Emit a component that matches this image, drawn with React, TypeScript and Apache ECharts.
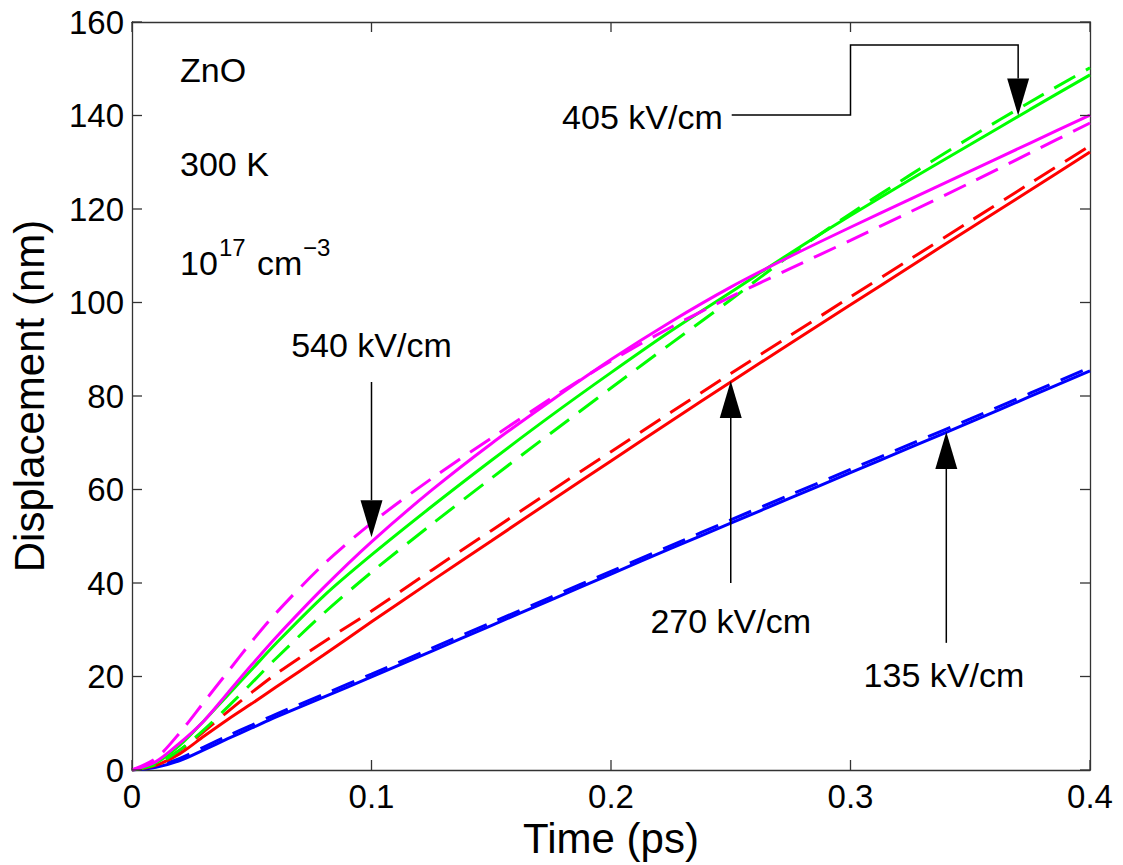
import React, { useEffect, useRef } from "react";
import * as echarts from "echarts";

// ---- data (time in ps, displacement in nm) ----
const times = [0, 0.01, 0.02, 0.03, 0.04, 0.05, 0.06, 0.08, 0.1, 0.125, 0.15, 0.175, 0.2, 0.225, 0.25, 0.275, 0.3, 0.325, 0.35, 0.375, 0.4];

const blueSolid = [0, 0.6, 2.0, 4.3, 6.7, 9.0, 11.3, 15.6, 19.9, 25.4, 30.9, 36.4, 41.9, 47.4, 52.8, 58.2, 63.6, 69.0, 74.4, 79.9, 85.4];
const blueDashed = [0, 0.8, 2.5, 4.9, 7.3, 9.6, 11.9, 16.2, 20.5, 26.0, 31.5, 37.0, 42.5, 48.0, 53.5, 58.9, 64.3, 69.7, 75.1, 80.6, 86.1];
const redSolid = [0, 1.0, 3.5, 7.2, 10.8, 14.2, 17.7, 24.6, 31.7, 40.4, 49.0, 57.6, 66.1, 74.6, 83.0, 91.3, 99.5, 107.7, 115.9, 124.0, 132.2];
const redDashed = [0, 1.3, 4.2, 8.2, 12.5, 16.6, 20.5, 27.4, 34.0, 42.7, 51.2, 59.7, 68.1, 76.5, 84.8, 93.0, 101.2, 109.3, 117.4, 125.5, 133.5];
const greenSolid = [0, 1.5, 5.3, 10.5, 16.0, 21.5, 27.0, 37.2, 46.0, 56.3, 66.2, 75.8, 85.0, 93.9, 102.2, 110.6, 118.6, 126.3, 133.8, 141.3, 148.7];
const greenDashed = [0, 1.2, 4.3, 8.6, 13.5, 18.6, 23.8, 33.5, 42.3, 52.5, 62.4, 72.1, 81.7, 91.2, 100.6, 110.2, 119.0, 127.3, 135.3, 142.9, 150.2];
const magentaSolid = [0, 1.8, 5.8, 10.5, 16.5, 22.5, 28.3, 39.0, 48.8, 59.8, 69.8, 79.0, 87.8, 95.9, 103.3, 109.9, 116.1, 122.1, 128.1, 134.1, 140.1];
const magentaDashed = [0, 2.5, 8.0, 14.5, 21.0, 27.5, 33.5, 44.0, 52.8, 62.3, 71.0, 79.5, 87.5, 94.7, 101.2, 107.3, 113.3, 119.4, 125.6, 132.0, 138.4];

const xTicks = [0, 0.1, 0.2, 0.3, 0.4];
const yTicks = [0, 20, 40, 60, 80, 100, 120, 140, 160];

// annotations (data coordinates)
const arrowNotes = [
  { label: "540 kV/cm", text: [0.1, 90.9], from: [0.1, 83], tip: [0.1, 49.8] },
  { label: "270 kV/cm", text: [0.25, 31.9], from: [0.25, 40], tip: [0.25, 83.2] },
  { label: "135 kV/cm", text: [0.339, 20.3], from: [0.34, 27.2], tip: [0.34, 72.3] },
];
const note405Label = "405 kV/cm";
const note405Path = [[0.2504, 140.1], [0.3, 140.1], [0.3, 155.1], [0.37, 155.1], [0.37, 140.0]];

const FONT = "'Liberation Sans', Arial, Helvetica, sans-serif";
const AXIS_COLOR = "#333";

function pairs(ys: number[]) {
  return times.map((t, i) => [t, ys[i]]);
}

export default function App() {
  const ref = useRef<HTMLDivElement>(null);
  useEffect(() => {
    if (!ref.current) return;
    const chart = echarts.init(ref.current, null, { renderer: "svg" });
    const dashed = [24, 12];
    const mk = (name: string, ys: number[], color: string, dash: boolean) => ({
      name,
      type: "line",
      data: pairs(ys),
      smooth: 0.3,
      showSymbol: false,
      symbol: "none",
      xAxisIndex: 0,
      yAxisIndex: 0,
      lineStyle: { color, width: 3, type: dash ? dashed : "solid", cap: "butt" },
      emphasis: { disabled: true },
    });
    const baseAxis = {
      type: "value",
      splitLine: { show: false },
      axisLine: { show: true, onZero: false, lineStyle: { color: AXIS_COLOR, width: 1.3 } },
      axisTick: { show: false },
    };
    chart.setOption({
      animation: false,
      backgroundColor: "#fff",
      grid: { left: 130, top: 22, right: 33, bottom: 95, containLabel: false },
      xAxis: [
        {
          ...baseAxis,
          position: "bottom",
          min: xTicks[0],
          max: xTicks[xTicks.length - 1],
          interval: 0.1,
          name: "Time (ps)",
          nameLocation: "middle",
          nameGap: 38,
          nameTextStyle: { fontSize: 42, fontFamily: FONT, color: "#000" },
          axisLabel: {
            fontSize: 33,
            fontFamily: FONT,
            color: "#000",
            margin: 10,
            formatter: (v: number) => String(+v.toFixed(1)),
          },
        },
        {
          ...baseAxis,
          position: "top",
          min: xTicks[0],
          max: xTicks[xTicks.length - 1],
          interval: 0.1,
          axisLabel: { show: false },
        },
      ],
      yAxis: [
        {
          ...baseAxis,
          position: "left",
          min: yTicks[0],
          max: yTicks[yTicks.length - 1],
          interval: 20,
          name: "Displacement (nm)",
          nameLocation: "middle",
          nameGap: 82,
          nameTextStyle: { fontSize: 42, fontFamily: FONT, color: "#000" },
          axisLabel: { fontSize: 33, fontFamily: FONT, color: "#000", margin: 8 },
        },
        {
          ...baseAxis,
          position: "right",
          min: yTicks[0],
          max: yTicks[yTicks.length - 1],
          interval: 20,
          axisLabel: { show: false },
        },
      ],
      series: [
        mk("135 solid", blueSolid, "#0000ff", false),
        mk("135 dashed", blueDashed, "#0000ff", true),
        mk("270 solid", redSolid, "#ff0000", false),
        mk("270 dashed", redDashed, "#ff0000", true),
        mk("405 solid", greenSolid, "#00ff00", false),
        mk("405 dashed", greenDashed, "#00ff00", true),
        mk("540 solid", magentaSolid, "#ff00ff", false),
        mk("540 dashed", magentaDashed, "#ff00ff", true),
      ],
    });

    const toPx = (p: number[]) => chart.convertToPixel({ xAxisIndex: 0, yAxisIndex: 0 }, p) as number[];
    const headLen = 37;
    const headHalf = 11;
    const tickLen = 10;
    const graphics: any[] = [];
    const textStyle = (extra: any) => ({ fontSize: 34, fontFamily: FONT, fill: "#000", ...extra });

    // inward ticks on all four sides
    const yMin = yTicks[0];
    const yMax = yTicks[yTicks.length - 1];
    const xMin = xTicks[0];
    const xMax = xTicks[xTicks.length - 1];
    const tickStyle = { stroke: AXIS_COLOR, lineWidth: 1.3 };
    xTicks.forEach((v) => {
      const b = toPx([v, yMin]);
      const t = toPx([v, yMax]);
      graphics.push({ type: "line", shape: { x1: b[0], y1: b[1], x2: b[0], y2: b[1] - tickLen }, style: tickStyle, z: 50 });
      graphics.push({ type: "line", shape: { x1: t[0], y1: t[1], x2: t[0], y2: t[1] + tickLen }, style: tickStyle, z: 50 });
    });
    yTicks.forEach((v) => {
      const l = toPx([xMin, v]);
      const r = toPx([xMax, v]);
      graphics.push({ type: "line", shape: { x1: l[0], y1: l[1], x2: l[0] + tickLen, y2: l[1] }, style: tickStyle, z: 50 });
      graphics.push({ type: "line", shape: { x1: r[0], y1: r[1], x2: r[0] - tickLen, y2: r[1] }, style: tickStyle, z: 50 });
    });

    const arrowHead = (tip: number[], dir: number) => {
      const baseY = tip[1] - dir * headLen;
      return {
        type: "polygon",
        shape: { points: [[tip[0], tip[1]], [tip[0] - headHalf, baseY], [tip[0] + headHalf, baseY]] },
        style: { fill: "#000" },
        z: 100,
      };
    };

    arrowNotes.forEach((n) => {
      const t = toPx(n.text);
      const f = toPx(n.from);
      const tip = toPx(n.tip);
      const dir = tip[1] > f[1] ? 1 : -1;
      graphics.push({
        type: "text",
        x: t[0],
        y: t[1],
        style: textStyle({ text: n.label, align: "center", verticalAlign: "middle" }),
        z: 100,
      });
      graphics.push({
        type: "line",
        shape: { x1: f[0], y1: f[1], x2: tip[0], y2: tip[1] - dir * headLen },
        style: { stroke: "#000", lineWidth: 1.5 },
        z: 100,
      });
      graphics.push(arrowHead(tip, dir));
    });

    // 405 kV/cm elbow arrow
    const pts = note405Path.map(toPx);
    const tip405 = pts[pts.length - 1];
    const polyPts = pts.slice(0, pts.length - 1).concat([[tip405[0], tip405[1] - headLen]]);
    graphics.push({
      type: "polyline",
      shape: { points: polyPts },
      style: { stroke: "#000", lineWidth: 1.5, fill: null },
      z: 100,
    });
    graphics.push(arrowHead(tip405, 1));
    graphics.push({
      type: "text",
      x: pts[0][0] - 9,
      y: pts[0][1] + 2,
      style: textStyle({ text: note405Label, align: "right", verticalAlign: "middle" }),
      z: 100,
    });

    // info text block
    graphics.push({ type: "text", x: 180, y: 70, style: textStyle({ text: "ZnO", verticalAlign: "middle" }), z: 100 });
    graphics.push({ type: "text", x: 180, y: 164, style: textStyle({ text: "300 K", verticalAlign: "middle" }), z: 100 });
    graphics.push({ type: "text", x: 180, y: 263, style: textStyle({ text: "10", verticalAlign: "middle" }), z: 100 });
    graphics.push({ type: "text", x: 219, y: 247, style: textStyle({ text: "17", fontSize: 24, verticalAlign: "middle" }), z: 100 });
    graphics.push({ type: "text", x: 257, y: 263, style: textStyle({ text: "cm", verticalAlign: "middle" }), z: 100 });
    graphics.push({ type: "text", x: 303, y: 247, style: textStyle({ text: "\u22123", fontSize: 24, verticalAlign: "middle" }), z: 100 });

    chart.setOption({ graphic: graphics });

    return () => chart.dispose();
  }, []);
  return (
    <div
      ref={ref}
      style={{ position: "absolute", left: 0, top: 0, width: 1123, height: 865, background: "#fff" }}
    />
  );
}
